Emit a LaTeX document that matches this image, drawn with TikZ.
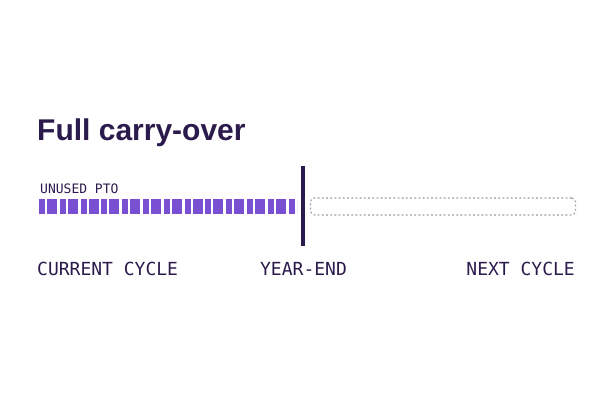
\documentclass[tikz,border=0pt]{standalone}
\usepackage{fontspec}
\setmainfont{Liberation Sans}
\newfontfamily\monofont{DejaVu Sans Mono}
\definecolor{ink}{HTML}{2B1B4D}
\definecolor{barpurple}{HTML}{7A50D2}
\definecolor{dotgray}{HTML}{9C9C9C}
\begin{document}
\begin{tikzpicture}[x=1pt,y=-1pt,
  titletext/.style={anchor=base west,inner sep=0pt,font=\fontsize{30}{30}\selectfont\bfseries,text=ink},
  smalllabel/.style={anchor=base west,inner sep=0pt,font=\monofont\fontsize{13}{13}\selectfont,text=ink},
  axislabel/.style={anchor=base,inner sep=0pt,font=\monofont\fontsize{18}{18}\selectfont,text=ink},
  seg/.style={fill=barpurple,draw=none},
  futurebox/.style={draw=dotgray,line width=1.1pt,dash pattern=on 1.8pt off 2.4pt,rounded corners=4pt},
  yearline/.style={draw=ink,line width=4pt}]
\useasboundingbox (0,0) rectangle (610,409);
\fill[white] (0,0) rectangle (610,409);
\node[titletext] (title) at (37,140) {Full carry-over};
\node[smalllabel] (unused) at (40,193) {UNUSED PTO};
% segmented bar of unused days
\begin{scope}
\clip (38,195) rectangle (297,218);
\foreach \k in {0,...,12}{
  \fill[seg] ({39+\k*20.8},199) rectangle ({45+\k*20.8},214);
  \fill[seg] ({47+\k*20.8},199) rectangle ({57+\k*20.8},214);
}
\end{scope}
% next cycle placeholder
\node[futurebox,inner sep=0pt,minimum width=265pt,minimum height=17pt] (next) at (443,206.5) {};
% year-end marker
\coordinate (ytop) at (303,166);
\coordinate (ybot) at (303,246);
\draw[yearline] (ytop) -- (ybot);
\node[axislabel,anchor=base west] (cur) at (37,275) {CURRENT CYCLE};
\node[axislabel] (ye) at (303.5,275) {YEAR-END};
\node[axislabel,anchor=base east] (nc) at (575,275) {NEXT CYCLE};
\end{tikzpicture}
\end{document}
